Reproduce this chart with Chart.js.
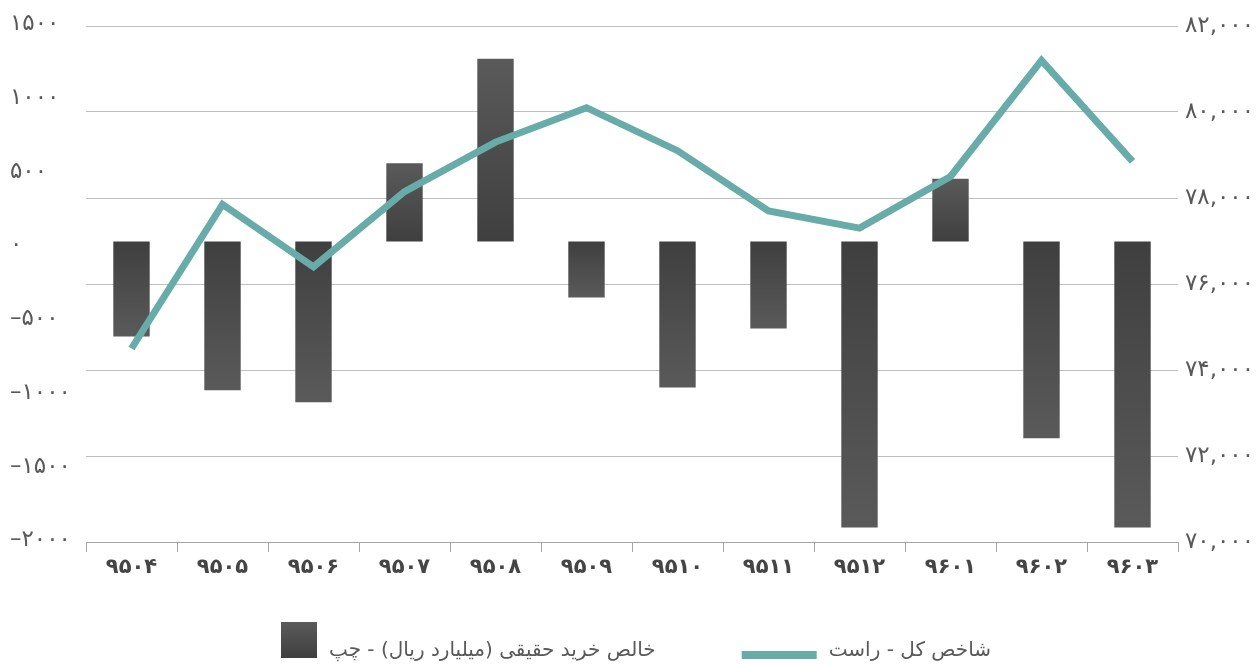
<!DOCTYPE html>
<html lang="fa">
<head>
<meta charset="utf-8">
<title>خالص خرید حقیقی و شاخص کل</title>
<script src="https://cdn.jsdelivr.net/npm/chart.js@4/dist/chart.umd.min.js"></script>
<style>
  html, body { margin: 0; padding: 0; background: #ffffff; }
  #myChart { display: block; }
</style>
</head>
<body>
<canvas id="myChart" width="1256" height="665"></canvas>
<script>
const categories = ['۹۵۰۴', '۹۵۰۵', '۹۵۰۶', '۹۵۰۷', '۹۵۰۸', '۹۵۰۹', '۹۵۱۰', '۹۵۱۱', '۹۵۱۲', '۹۶۰۱', '۹۶۰۲', '۹۶۰۳'];
const netBuyValues = [-645, -1010, -1090, 530, 1240, -380, -990, -590, -1940, 425, -1335, -1940];
const indexValues = [74500, 77850, 76400, 78150, 79300, 80100, 79100, 77700, 77300, 78500, 81200, 78850];
const leftTicks = [-2000, -1500, -1000, -500, 0, 500, 1000, 1500];
const rightTicks = [70000, 72000, 74000, 76000, 78000, 80000, 82000];
const seriesLabels = ['خالص خرید حقیقی (میلیارد ریال) - چپ', 'شاخص کل - راست'];

const FONT = '"DejaVu Sans", "Noto Sans", sans-serif';
const faDigits = '۰۱۲۳۴۵۶۷۸۹';

function toFa(str) {
    return String(str).replace(/\d/g, d => faDigits[d]);
}

function leftLabel(v) {
    return (v < 0 ? '–' : '') + toFa(Math.abs(v));
}

function rightLabel(v) {
    return toFa(v.toLocaleString('en-US'));
}

// dark at the zero line, lighter towards the end of the bar
function barGradient(context) {
    const chart = context.chart;
    if (!chart.chartArea || context.type !== 'data') return '#4a4a4a';
    const scale = chart.scales.y;
    const y0 = scale.getPixelForValue(0);
    const y1 = scale.getPixelForValue(context.raw);
    if (Math.abs(y1 - y0) < 1) return '#3f3f3f';
    const g = chart.ctx.createLinearGradient(0, y0, 0, y1);
    g.addColorStop(0, '#3f3f3f');
    g.addColorStop(1, '#5a5a5a');
    return g;
}

// legend drawn under the axis: marker on the left, RTL text on its right
const bottomLegend = {
    id: 'bottomLegend',
    afterDraw(chart) {
        const c = chart.ctx;
        const sets = chart.data.datasets;
        const markerW = [36, 75];
        const textGap = 12, itemGap = 86;
        c.save();
        c.font = '20px ' + FONT;
        const widths = sets.map(d => c.measureText(d.label).width);
        let total = 0;
        sets.forEach((d, i) => { total += markerW[i] + textGap + widths[i]; });
        total += itemGap;
        let x = chart.width / 2 + 8 - total / 2;
        const baseY = 656;
        sets.forEach((d, i) => {
            if (d.type === 'bar') {
                const g = c.createLinearGradient(0, 622, 0, 658);
                g.addColorStop(0, '#5a5a5a');
                g.addColorStop(1, '#3f3f3f');
                c.fillStyle = g;
                c.fillRect(x, 622, markerW[i], 36);
            } else {
                c.fillStyle = d.borderColor;
                c.fillRect(x, 651, markerW[i], 8);
            }
            x += markerW[i] + textGap;
            c.fillStyle = '#595959';
            c.direction = 'rtl';
            c.textAlign = 'right';
            c.textBaseline = 'alphabetic';
            c.fillText(d.label, x + widths[i], baseY);
            x += widths[i] + itemGap;
        });
        c.restore();
    }
};

function init() {
    const ctx = document.getElementById('myChart').getContext('2d');
    new Chart(ctx, {
        type: 'bar',
        data: {
            labels: categories,
            datasets: [{
                type: 'bar',
                label: seriesLabels[0],
                data: netBuyValues,
                yAxisID: 'y',
                backgroundColor: barGradient,
                barPercentage: 0.4,
                categoryPercentage: 1,
                order: 2
            }, {
                type: 'line',
                label: seriesLabels[1],
                data: indexValues,
                yAxisID: 'y1',
                borderColor: '#67aca8',
                borderWidth: 7,
                borderJoinStyle: 'miter',
                pointRadius: 0,
                tension: 0,
                order: 1
            }]
        },
        options: {
            responsive: false,
            animation: false,
            layout: { padding: { left: 10, top: 26, right: 0, bottom: 78 } },
            plugins: {
                legend: { display: false },
                tooltip: { enabled: false }
            },
            scales: {
                x: {
                    grid: { offset: true, drawOnChartArea: false, tickLength: 10, color: '#a6a6a6' },
                    border: { color: '#a6a6a6' },
                    ticks: { font: { family: FONT, size: 21, weight: 'bold' }, color: '#454545', padding: 3 },
                    afterFit: s => { s.height = 45; }
                },
                y: {
                    position: 'left',
                    // zero line of the bars sits a little above the label "۰"
                    min: -2039,
                    max: 1462,
                    afterBuildTicks: s => { s.ticks = leftTicks.map(v => ({ value: v })); },
                    grid: { display: false },
                    border: { display: false },
                    ticks: { callback: leftLabel, crossAlign: 'far', labelOffset: 4, font: { family: FONT, size: 23 }, color: '#595959' },
                    afterFit: s => { s.width = 76; }
                },
                y1: {
                    position: 'right',
                    min: 70000,
                    max: 82000,
                    afterBuildTicks: s => { s.ticks = rightTicks.map(v => ({ value: v })); },
                    grid: { color: '#bfbfbf', drawTicks: false },
                    border: { display: false },
                    ticks: { callback: rightLabel, padding: 7, font: { family: FONT, size: 23 }, color: '#595959' },
                    afterFit: s => { s.width = 78; }
                }
            }
        },
        plugins: [bottomLegend]
    });
}

window.addEventListener('DOMContentLoaded', init);
</script>
</body>
</html>
